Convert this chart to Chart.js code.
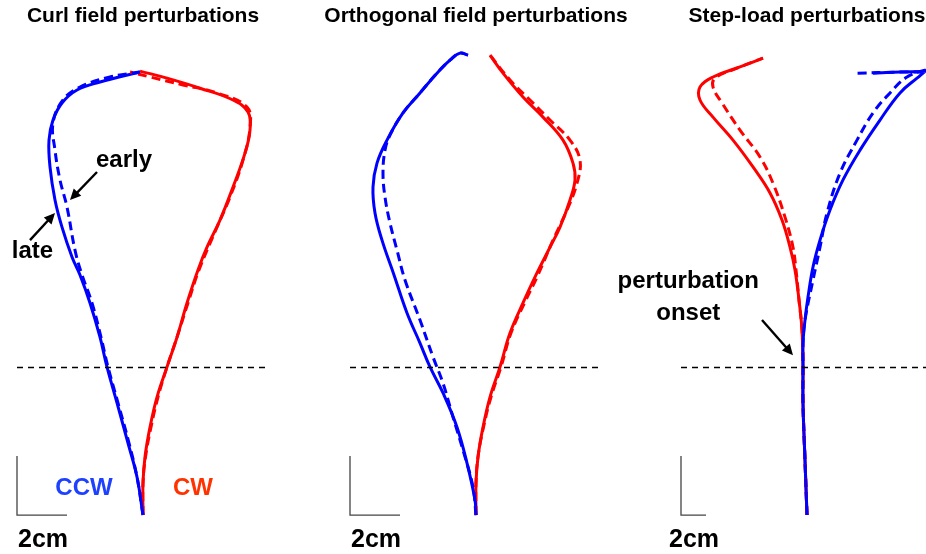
<!DOCTYPE html>
<html>
<head>
<meta charset="utf-8">
<title>Hand trajectories</title>
<script src="https://cdn.jsdelivr.net/npm/chart.js@4.4.1/dist/chart.umd.min.js"></script>
<style>
  html, body { margin: 0; padding: 0; background: #fff; overflow: hidden; }
  body { width: 926px; height: 554px; position: relative; }
  canvas { position: absolute; top: 0; }
</style>
</head>
<body>
<canvas id="curlChart" width="300" height="554" style="left:0px"></canvas>
<canvas id="orthoChart" width="310" height="554" style="left:320px"></canvas>
<canvas id="stepChart" width="380" height="554" style="left:600px"></canvas>
<script>
// hand paths in cm, start of reach at (0, 0), target straight ahead
// "late" = solid, "early" = dashed

// Curl field
const curlCcwLate = [[0,0],[-0.24,1.29],[-0.6,2.44],[-1.04,3.8],[-1.44,5.02],[-1.72,6.03],[-2.12,7.19],[-2.52,8.14],[-2.84,8.75],[-3.24,9.76],[-3.52,10.68],[-3.72,11.8],[-3.76,12.71],[-3.6,13.39],[-3.24,13.97],[-2.64,14.41],[-1.72,14.68],[-0.12,15.02]];
const curlCcwEarly = [[0,0],[-0.24,1.29],[-0.56,2.44],[-1.0,3.8],[-1.4,5.02],[-1.68,6.03],[-2.04,7.19],[-2.44,8.14],[-2.72,8.98],[-3.04,10.44],[-3.32,11.36],[-3.52,12.37],[-3.6,13.29],[-3.2,14.07],[-2.52,14.51],[-1.32,14.85],[-0.12,15.02]];
const curlCwLate = [[0,0],[0,1.08],[0.08,1.97],[0.28,2.98],[0.56,4.0],[0.96,5.02],[1.36,6.03],[1.76,7.19],[2.2,8.31],[2.56,9.08],[3.08,10.0],[3.6,11.12],[4.08,12.27],[4.28,13.05],[4.2,13.66],[3.6,14.07],[2.28,14.47],[0.96,14.81],[-0.12,15.05]];
const curlCwEarly = [[0,0],[0,1.08],[0.1,1.97],[0.32,2.98],[0.6,4.0],[0.96,5.02],[1.36,6.03],[1.8,7.19],[2.24,8.31],[2.96,9.76],[3.48,10.78],[4.0,12.03],[4.28,13.15],[4.16,13.83],[2.96,14.31],[1.6,14.58],[0.28,14.85],[-0.52,15.02]];

// Orthogonal field
const orthoCcwLate = [[0,0],[-0.04,0.51],[-0.36,1.76],[-0.76,2.98],[-1.32,4.14],[-1.84,5.02],[-2.24,5.83],[-2.76,6.85],[-3.28,8.14],[-3.76,9.32],[-4.04,10.24],[-4.12,11.12],[-3.96,11.93],[-3.56,12.71],[-2.92,13.63],[-2.24,14.31],[-1.56,14.98],[-1.04,15.42],[-0.64,15.66],[-0.32,15.59]];
const orthoCcwEarly = [[0,0],[-0.12,0.95],[-0.52,2.2],[-0.92,3.32],[-1.32,4.47],[-1.72,5.36],[-2.24,6.61],[-2.84,7.97],[-3.16,8.98],[-3.44,9.9],[-3.64,10.78],[-3.72,11.59],[-3.64,12.37],[-3.44,12.88],[-2.92,13.63],[-2.24,14.31],[-1.56,14.98],[-1.04,15.42],[-0.64,15.66],[-0.32,15.59]];
const orthoCwLate = [[0,0],[0,1.08],[0.08,1.97],[0.28,2.98],[0.56,4.0],[0.96,5.02],[1.36,6.17],[1.88,7.19],[2.4,8.14],[2.96,9.08],[3.36,9.76],[3.76,10.68],[3.96,11.36],[3.88,11.93],[3.48,12.71],[2.68,13.49],[1.88,14.17],[1.08,14.98],[0.56,15.59]];
const orthoCwEarly = [[0,0],[0,1.08],[0.08,1.97],[0.3,2.98],[0.6,4.0],[1.0,5.02],[1.4,6.17],[1.94,7.19],[2.48,8.14],[3.08,9.32],[3.64,10.34],[4.04,11.25],[4.16,12.03],[3.76,12.71],[2.96,13.39],[2.16,14.07],[1.36,14.75],[0.56,15.59]];

// Step-load
const stepCcwLate = [[0,0],[-0.16,1.86],[-0.32,3.8],[-0.32,5.02],[-0.32,5.83],[-0.16,6.61],[0.08,7.39],[0.48,8.41],[1.04,9.32],[1.84,10.34],[2.88,11.36],[4.24,12.37],[5.84,13.39],[7.44,14.31],[8.8,14.81],[9.84,15.15],[11.04,15.29],[11.28,15.15],[9.84,15.05],[7.44,15.02],[5.28,14.98]];
const stepCcwEarly = [[0,0],[-0.16,1.86],[-0.32,3.8],[-0.32,5.02],[-0.32,5.83],[-0.16,6.61],[0.48,7.97],[1.04,9.08],[1.6,10.24],[2.64,11.59],[4.0,12.71],[5.28,13.63],[6.64,14.31],[8.0,14.85],[9.44,15.08],[10.64,15.19],[9.84,15.05],[7.44,15.02],[4.0,14.98]];
const stepCwLate = [[0,0],[-0.16,1.86],[-0.32,3.8],[-0.32,5.02],[-0.4,6.27],[-0.64,7.29],[-0.96,8.31],[-1.36,9.08],[-2.0,10.0],[-2.96,10.92],[-4.32,11.8],[-5.92,12.71],[-7.52,13.49],[-8.56,14.07],[-8.56,14.51],[-7.52,14.85],[-5.36,15.19],[-3.52,15.49]];
const stepCwEarly = [[0,0],[-0.16,1.86],[-0.32,3.8],[-0.32,5.02],[-0.4,6.27],[-0.64,7.29],[-0.88,8.31],[-1.12,9.08],[-1.76,10.1],[-2.72,11.25],[-3.76,12.14],[-5.36,13.05],[-6.8,13.97],[-7.52,14.51],[-7.36,14.81],[-5.6,15.15],[-3.52,15.49]];

const onsetY = 5;      // perturbation switched on 5 cm into the reach
const scaleBarCm = 2;

const BLUE = '#0000ff';
const RED = '#ff0000';
const FONT = '"Liberation Sans", Arial, Helvetica, sans-serif';

const toXY = arr => arr.map(p => ({ x: p[0], y: p[1] }));

// labels + arrows drawn in data units
const notesPlugin = {
    id: 'notes',
    afterDatasetsDraw(chart, args, opts) {
        const { ctx, scales: { x, y } } = chart;
        ctx.save();
        ctx.textAlign = 'center';
        ctx.textBaseline = 'alphabetic';
        (opts.labels || []).forEach(l => {
            ctx.font = `bold ${l.size}px ${FONT}`;
            ctx.fillStyle = l.color || '#000';
            ctx.fillText(l.text, x.getPixelForValue(l.x), y.getPixelForValue(l.y));
        });
        (opts.arrows || []).forEach(a => {
            const x1 = x.getPixelForValue(a.from[0]), y1 = y.getPixelForValue(a.from[1]);
            const x2 = x.getPixelForValue(a.to[0]), y2 = y.getPixelForValue(a.to[1]);
            const ang = Math.atan2(y2 - y1, x2 - x1);
            const head = 12;
            ctx.strokeStyle = '#000';
            ctx.fillStyle = '#000';
            ctx.lineWidth = 2.4;
            ctx.beginPath();
            ctx.moveTo(x1, y1);
            ctx.lineTo(x2 - Math.cos(ang) * head * 0.8, y2 - Math.sin(ang) * head * 0.8);
            ctx.stroke();
            ctx.beginPath();
            ctx.moveTo(x2, y2);
            ctx.lineTo(x2 - head * Math.cos(ang - 0.45), y2 - head * Math.sin(ang - 0.45));
            ctx.lineTo(x2 - head * Math.cos(ang + 0.45), y2 - head * Math.sin(ang + 0.45));
            ctx.closePath();
            ctx.fill();
        });
        ctx.restore();
    }
};

const pathSet = (data, color, dashed) => ({
    data: toXY(data),
    borderColor: color,
    borderWidth: 3,
    borderDash: dashed ? [9, 5] : [],
    showLine: true,
    tension: 0.4,
    pointRadius: 0
});

const guideSets = (xLeft, xRight, barLeft, barCm) => [
    {
        data: [{ x: xLeft, y: onsetY }, { x: xRight, y: onsetY }],
        borderColor: '#000',
        borderWidth: 1.5,
        borderDash: [6, 5],
        showLine: true,
        pointRadius: 0
    },
    {
        data: [{ x: barLeft, y: scaleBarCm }, { x: barLeft, y: 0 }, { x: barLeft + barCm, y: 0 }],
        borderColor: '#444',
        borderWidth: 1.3,
        showLine: true,
        pointRadius: 0
    }
];

const makePanel = (id, cfg) => {
    new Chart(document.getElementById(id), {
        type: 'scatter',
        data: {
            datasets: [
                ...guideSets(cfg.guideLeft, cfg.guideRight, cfg.barLeft, scaleBarCm),
                pathSet(cfg.ccwEarly, BLUE, true),
                pathSet(cfg.cwEarly, RED, true),
                pathSet(cfg.ccwLate, BLUE, false),
                pathSet(cfg.cwLate, RED, false)
            ]
        },
        options: {
            responsive: false,
            animation: false,
            layout: { padding: 0 },
            scales: {
                x: { type: 'linear', display: false, min: cfg.xMin, max: cfg.xMax },
                y: { type: 'linear', display: false, min: -1.32, max: 17.46 }
            },
            plugins: {
                legend: { display: false },
                tooltip: { enabled: false },
                notes: {
                    labels: [{ text: cfg.title, x: 0, y: 16.71, size: 21 }, ...cfg.labels],
                    arrows: cfg.arrows
                }
            }
        },
        plugins: [notesPlugin]
    });
};

makePanel('curlChart', {
    title: 'Curl field perturbations',
    xMin: -5.72, xMax: 6.28,
    guideLeft: -5.04, guideRight: 5.08, barLeft: -5.04,
    ccwLate: curlCcwLate, ccwEarly: curlCcwEarly, cwLate: curlCwLate, cwEarly: curlCwEarly,
    labels: [
        { text: 'early', x: -0.76, y: 11.8, size: 24 },
        { text: 'late', x: -4.42, y: 8.71, size: 24 },
        { text: 'CCW', x: -2.36, y: 0.68, size: 24, color: '#1e40ff' },
        { text: 'CW', x: 2.0, y: 0.68, size: 24, color: '#ff3300' },
        { text: '2cm', x: -4.0, y: -1.08, size: 25 }
    ],
    arrows: [
        { from: [-1.84, 11.63], to: [-2.92, 10.68] },
        { from: [-4.52, 9.32], to: [-3.52, 10.24] }
    ]
});

makePanel('orthoChart', {
    title: 'Orthogonal field perturbations',
    xMin: -6.24, xMax: 6.16,
    guideLeft: -5.04, guideRight: 5.04, barLeft: -5.04,
    ccwLate: orthoCcwLate, ccwEarly: orthoCcwEarly, cwLate: orthoCwLate, cwEarly: orthoCwEarly,
    labels: [
        { text: '2cm', x: -4.0, y: -1.08, size: 25 }
    ],
    arrows: []
});

makePanel('stepChart', {
    title: 'Step-load perturbations',
    xMin: -16.56, xMax: 13.84,
    guideLeft: -10.08, guideRight: 13.84, barLeft: -10.08,
    ccwLate: stepCcwLate, ccwEarly: stepCcwEarly, cwLate: stepCwLate, cwEarly: stepCwEarly,
    labels: [
        { text: 'perturbation', x: -9.5, y: 7.69, size: 24 },
        { text: 'onset', x: -9.5, y: 6.61, size: 24 },
        { text: '2cm', x: -9.04, y: -1.08, size: 25 }
    ],
    arrows: [
        { from: [-3.6, 6.61], to: [-1.12, 5.42] }
    ]
});
</script>
</body>
</html>
